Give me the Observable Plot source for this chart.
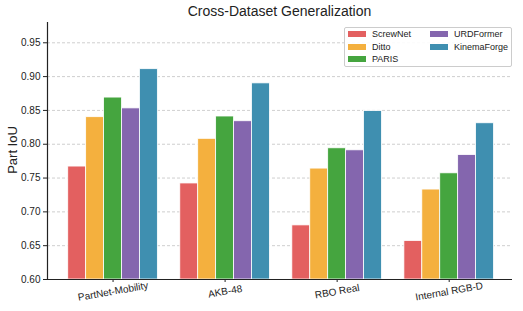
<!DOCTYPE html>
<html>
<head>
<meta charset="utf-8">
<script src="https://cdn.jsdelivr.net/npm/d3@7"></script>
<script src="https://cdn.jsdelivr.net/npm/@observablehq/plot@0.6"></script>
<style>
  body { margin: 0; background: #fff; font-family: "Liberation Sans", "DejaVu Sans", sans-serif; }
  #wrap { position: relative; width: 523px; height: 311px; }
  #title { position: absolute; left: 47px; width: 465px; top: 3px; text-align: center; font-size: 14px; color: #222; }
  #legend { position: absolute; left: 344px; top: 27px; width: 166px; height: 38px; border: 1px solid #ccc; border-radius: 2px; background: rgba(255,255,255,0.9); font-size: 9px; color: #222; }
  .item { position: absolute; display: flex; align-items: center; height: 12px; }
  .sw { width: 18px; height: 6px; margin-right: 6px; }
</style>
</head>
<body>
<div id="wrap">
  <div id="chart"></div>
  <div id="title">Cross-Dataset Generalization</div>
  <div id="legend"></div>
</div>
<script>
// Evaluation datasets and methods
const datasets = ["PartNet-Mobility", "AKB-48", "RBO Real", "Internal RGB-D"];
const methods = ["ScrewNet", "Ditto", "PARIS", "URDFormer", "KinemaForge"];
const colors = ["#e36060", "#f4b03e", "#45a53f", "#8466ae", "#3f8fb0"];

// Part IoU per method, one value per dataset
const screwNet    = [0.767, 0.742, 0.680, 0.657];
const ditto       = [0.840, 0.808, 0.764, 0.733];
const paris       = [0.869, 0.841, 0.794, 0.757];
const urdFormer   = [0.853, 0.834, 0.791, 0.784];
const kinemaForge = [0.911, 0.890, 0.849, 0.831];

const yTicks = [0.60, 0.65, 0.70, 0.75, 0.80, 0.85, 0.90, 0.95];

// Grouped bars: each group centred on its dataset index, bars 0.16 wide
const barWidth = 0.16;
const series = [screwNet, ditto, paris, urdFormer, kinemaForge];
const rows = [];
methods.forEach((m, i) => datasets.forEach((d, j) => rows.push({
  dataset: j, method: m, iou: series[i][j],
  left: j + (i - methods.length / 2) * barWidth
})));

const chart = Plot.plot({
  width: 523,
  height: 311,
  marginTop: 22,
  marginLeft: 47,
  marginRight: 11,
  marginBottom: 32,
  style: {fontFamily: "Liberation Sans, DejaVu Sans, sans-serif", fontSize: "10px", color: "#222", background: "#fff"},
  x: {domain: [-0.585, 3.565], label: null},
  y: {domain: [0.6, 0.98], label: null},
  color: {domain: methods, range: colors},
  marks: [
    Plot.gridY(yTicks.slice(1), {stroke: "#bbb", strokeOpacity: 0.7, strokeDasharray: "3,2"}),
    Plot.rectY(rows, {x1: "left", x2: d => d.left + barWidth, y1: 0.6, y2: "iou", fill: "method", stroke: "white", strokeWidth: 0.8}),
    Plot.axisY(yTicks, {tickFormat: d3.format(".2f"), tickSize: 4, tickPadding: 3, fontSize: 10, label: null}),
    Plot.axisX(d3.range(datasets.length), {tickFormat: i => datasets[i], tickRotate: -10, textAnchor: "middle", tickSize: 3, tickPadding: 9, fontSize: 10, label: null}),
    Plot.ruleY([0.6], {stroke: "#222", strokeWidth: 1.2}),
    Plot.ruleX([-0.585], {stroke: "#222", strokeWidth: 1.2})
  ]
});
document.getElementById("chart").append(chart);

// y-axis label
d3.select(chart).append("text").attr("transform", "translate(17,150) rotate(-90)").attr("text-anchor", "middle")
  .attr("font-size", 13).attr("fill", "#222").text("Part IoU");

// legend, two columns
const legend = document.getElementById("legend");
methods.forEach((m, i) => {
  const col = i < 3 ? 0 : 1, row = i < 3 ? i : i - 3;
  const el = document.createElement("div");
  el.className = "item";
  el.style.left = (col ? 85 : 3) + "px";
  el.style.top = (row * 12.6) + "px";
  el.innerHTML = `<span class="sw" style="background:${colors[i]}"></span><span>${m}</span>`;
  legend.append(el);
});
</script>
</body>
</html>
